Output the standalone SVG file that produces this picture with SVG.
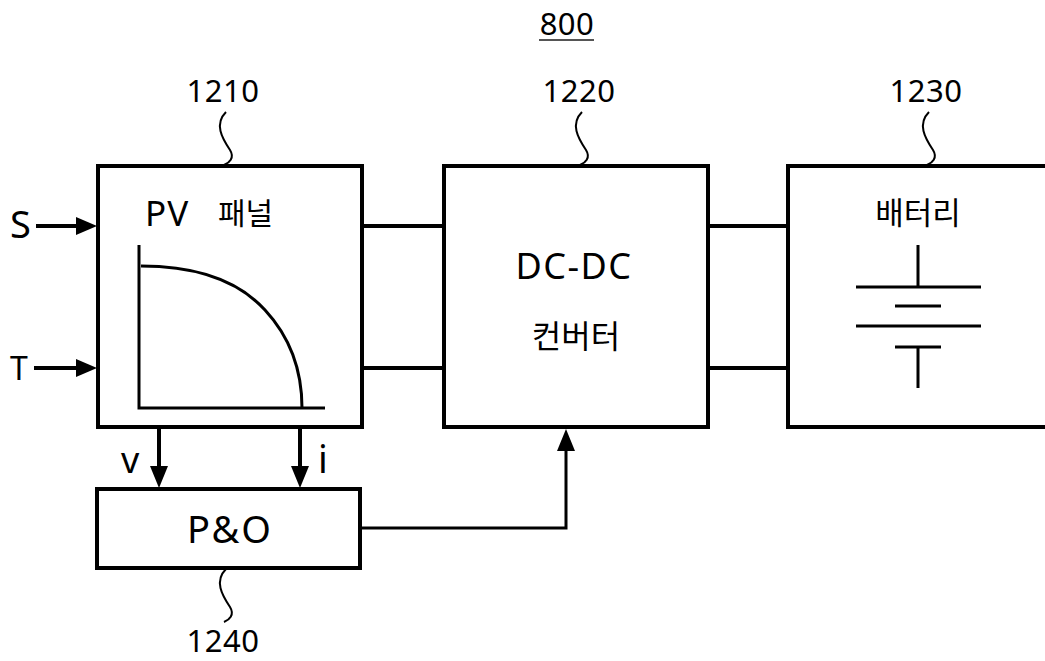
<svg xmlns="http://www.w3.org/2000/svg" width="1045" height="661" viewBox="0 0 1045 661">
<style>
text{font-family:"Noto Sans","Noto Sans CJK KR",sans-serif;fill:#000}
.box{fill:#fff;stroke:#000;stroke-width:4}
.ln{fill:none;stroke:#000;stroke-width:4}
.thin{fill:none;stroke:#000;stroke-width:3}
.sq{fill:none;stroke:#000;stroke-width:2}
.lbl{font-size:31px;text-anchor:middle;letter-spacing:0.5px}
</style>
<rect width="1045" height="661" fill="#fff"/>
<g id="title"><text class="lbl" x="567" y="35">800</text><line x1="539" y1="40" x2="594" y2="40" stroke="#555" stroke-width="2"/></g>
<g id="pv">
<rect class="box" x="98" y="166" width="264" height="261"/>
<text x="145" y="226" font-size="35" letter-spacing="1">PV</text><text x="218" y="224" font-size="30">패널</text>
<path class="thin" d="M139 245 V408 H325"/>
<path class="thin" d="M141 266 Q225 266 265 310 Q302 350 302 408"/>
<text class="lbl" x="223" y="102">1210</text>
<path class="sq" d="M226 112 C214 124 222 138 230 150 C235 158 229 163 224 165"/>
</g>
<g id="dcdc">
<rect class="box" x="444" y="166" width="264" height="261"/>
<text x="574" y="279" font-size="36" letter-spacing="1.5" text-anchor="middle">DC-DC</text>
<text x="576" y="348" font-size="32" text-anchor="middle">컨버터</text>
<text class="lbl" x="579" y="102">1220</text>
<path class="sq" d="M582 112 C570 124 578 138 586 150 C591 158 585 163 580 165"/>
</g>
<g id="battery">
<rect class="box" x="788" y="166" width="270" height="261"/>
<text x="918" y="224" font-size="31" text-anchor="middle">배터리</text>
<path class="thin" d="M918 245 V287 M856 287 H981 M895 306 H941 M856 326 H981 M895 347 H941 M918 347 V388"/>
<text class="lbl" x="926" y="102">1230</text>
<path class="sq" d="M929 112 C917 124 925 138 933 150 C938 158 932 163 927 165"/>
</g>
<g id="po">
<rect class="box" x="97" y="489" width="263" height="79"/>
<text x="230" y="543" font-size="38" letter-spacing="2" text-anchor="middle">P&amp;O</text>
<text class="lbl" x="223" y="652">1240</text>
<path class="sq" d="M226 569 C214 581 222 595 230 607 C235 615 229 620 224 622"/>
</g>
<g id="inputs">
<text x="10" y="238" font-size="38">S</text>
<text x="10" y="380" font-size="32">T</text>
<text x="121" y="473" font-size="36">v</text>
<text x="318" y="473" font-size="38">i</text>
</g>
<g id="connectors">
<line class="ln" x1="36" y1="226" x2="80" y2="226"/>
<path d="M76 217 L97 226 L76 235 Z"/>
<line class="ln" x1="34" y1="368" x2="80" y2="368"/>
<path d="M76 359 L97 368 L76 377 Z"/>
<line class="ln" x1="362" y1="226" x2="444" y2="226"/>
<line class="ln" x1="362" y1="368" x2="444" y2="368"/>
<line class="ln" x1="708" y1="226" x2="788" y2="226"/>
<line class="ln" x1="708" y1="368" x2="788" y2="368"/>
<line class="ln" x1="159" y1="429" x2="159" y2="470"/>
<path d="M150 466 L159 488 L168 466 Z"/>
<line class="ln" x1="300" y1="429" x2="300" y2="470"/>
<path d="M291 466 L300 488 L309 466 Z"/>
<path class="thin" d="M360 528 H566 V448"/>
<path d="M557 451 L566 429 L575 451 Z"/>
</g>
</svg>
